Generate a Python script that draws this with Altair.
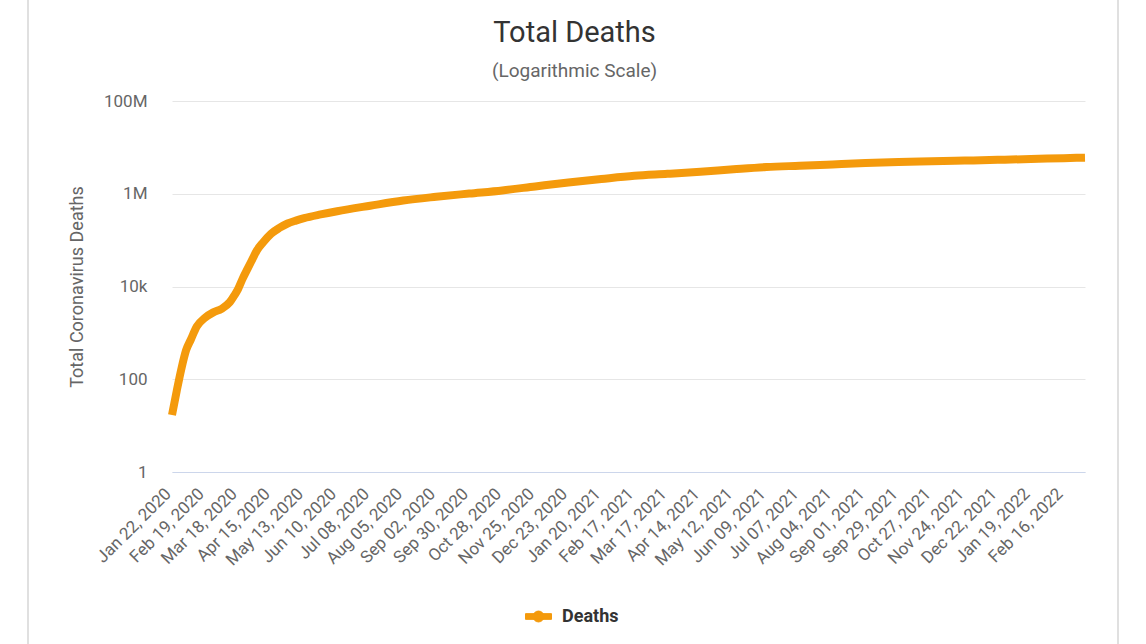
import altair as alt
import pandas as pd

# ---- data ----
dates = [
    "2020-01-22", "2020-01-26", "2020-01-30", "2020-02-03", "2020-02-07", "2020-02-12",
    "2020-02-19", "2020-02-26", "2020-03-04", "2020-03-11", "2020-03-15", "2020-03-18",
    "2020-03-22", "2020-03-26", "2020-03-30", "2020-04-03", "2020-04-08", "2020-04-15",
    "2020-04-22", "2020-04-29", "2020-05-06", "2020-05-13", "2020-05-27", "2020-06-10",
    "2020-07-08", "2020-08-05", "2020-09-02", "2020-09-30", "2020-10-28", "2020-11-25",
    "2020-12-23", "2021-01-20", "2021-02-17", "2021-03-17", "2021-04-14", "2021-05-12",
    "2021-06-09", "2021-07-07", "2021-08-04", "2021-09-01", "2021-09-29", "2021-10-27",
    "2021-11-24", "2021-12-22", "2022-01-19", "2022-02-16", "2022-03-06",
]
deaths = [
    17, 56, 170, 425, 720, 1370,
    2120, 2770, 3300, 4600, 6500, 8800,
    15000, 24000, 38000, 60000, 88000, 137000,
    183000, 228000, 264000, 298000, 358000, 420000,
    552000, 715000, 860000, 1010000, 1180000, 1440000,
    1750000, 2080000, 2440000, 2690000, 2990000, 3370000,
    3760000, 4020000, 4290000, 4580000, 4810000, 5000000,
    5180000, 5390000, 5590000, 5860000, 6000000,
]
series = ["Deaths"] * len(dates)

tick_labels_dates = [d.strftime("%Y-%m-%d") for d in pd.date_range("2020-01-22", "2022-02-16", freq="28D")]
y_ticks = [1, 100, 10000, 1000000, 100000000]

ORANGE = "#F49A0C"
FONT = "Roboto"

df = pd.DataFrame({"date": dates, "deaths": deaths, "series": series})
tick_ms = [int(pd.Timestamp(d).value // 10**6) for d in tick_labels_dates]
x_domain = [tick_ms[0], int(pd.Timestamp(dates[-1]).value // 10**6)]

legend_symbol = ("M-1,-0.22 L1,-0.22 L1,0.22 L-1,0.22 Z "
                 "M-0.42,0 A0.42,0.42 0 1,1 0.42,0 A0.42,0.42 0 1,1 -0.42,0 Z")

line = alt.Chart(df).mark_line(
    strokeWidth=8, interpolate="monotone", strokeCap="butt"
).encode(
    x=alt.X(
        "date:T",
        scale=alt.Scale(type="utc", domain=x_domain, nice=False),
        axis=alt.Axis(
            values=tick_ms,
            labelExpr="utcFormat(datum.value, '%b %d, %Y')",
            labelAngle=-45,
            labelAlign="right",
            labelBaseline="middle",
            labelFontSize=17,
            labelColor="#666666",
            labelPadding=19,
            labelOffset=-4,
            labelFont=FONT,
            ticks=False,
            grid=False,
            domain=True,
            domainColor="#ccd6eb",
            domainWidth=1,
            labelOverlap=False,
            title=None,
        ),
    ),
    y=alt.Y(
        "deaths:Q",
        scale=alt.Scale(type="log", domain=[1, 100000000], nice=False),
        axis=alt.Axis(
            values=y_ticks,
            labelExpr="datum.value >= 1e6 ? format(datum.value/1e6, 'd') + 'M' : "
                      "(datum.value >= 1e3 ? format(datum.value/1e3, 'd') + 'k' : format(datum.value, 'd'))",
            labelFontSize=17,
            labelColor="#666666",
            labelFont=FONT,
            labelPadding=25,
            ticks=False,
            domain=False,
            grid=True,
            gridColor="#e6e6e6",
            gridWidth=1,
            title="Total Coronavirus Deaths",
            titleFont=FONT,
            titleFontSize=18,
            titleFontWeight="normal",
            titleColor="#666666",
            titlePadding=17,
        ),
    ),
    color=alt.Color(
        "series:N",
        scale=alt.Scale(range=[ORANGE]),
        legend=alt.Legend(
            title=None,
            orient="none",
            legendX=353,
            legendY=502,
            symbolType=legend_symbol,
            symbolSize=676,
            symbolFillColor=ORANGE,
            symbolStrokeColor=ORANGE,
            symbolStrokeWidth=1,
            labelFont=FONT,
            labelFontSize=18,
            labelFontWeight="bold",
            labelColor="#333333",
            labelOffset=10,
        ),
    ),
)

frame_data = alt.Data(values=[{"k": 1}])
left_edge = alt.Chart(frame_data).mark_rule(color="#e0e0e0", strokeWidth=2).encode(
    x=alt.value(-144), y=alt.value(-101), y2=alt.value(543)
)
right_edge = alt.Chart(frame_data).mark_rule(color="#e0e0e0", strokeWidth=2).encode(
    x=alt.value(946), y=alt.value(-101), y2=alt.value(543)
)

chart = alt.layer(left_edge, right_edge, line).properties(
    width=913,
    height=371,
    background="white",
    autosize=alt.AutoSizeParams(type="none"),
    padding={"left": 172, "top": 101, "right": 61, "bottom": 172},
    title=alt.TitleParams(
        "Total Deaths",
        subtitle="(Logarithmic Scale)",
        font=FONT,
        fontSize=29,
        fontWeight="normal",
        color="#333333",
        subtitleFont=FONT,
        subtitleFontSize=19,
        subtitleColor="#666666",
        subtitlePadding=14,
        anchor="middle",
        offset=-82,
        dx=-54,
    ),
).configure_view(stroke="transparent", strokeWidth=0)

chart.save("out.html", embed_options={"renderer": "svg", "actions": False})
